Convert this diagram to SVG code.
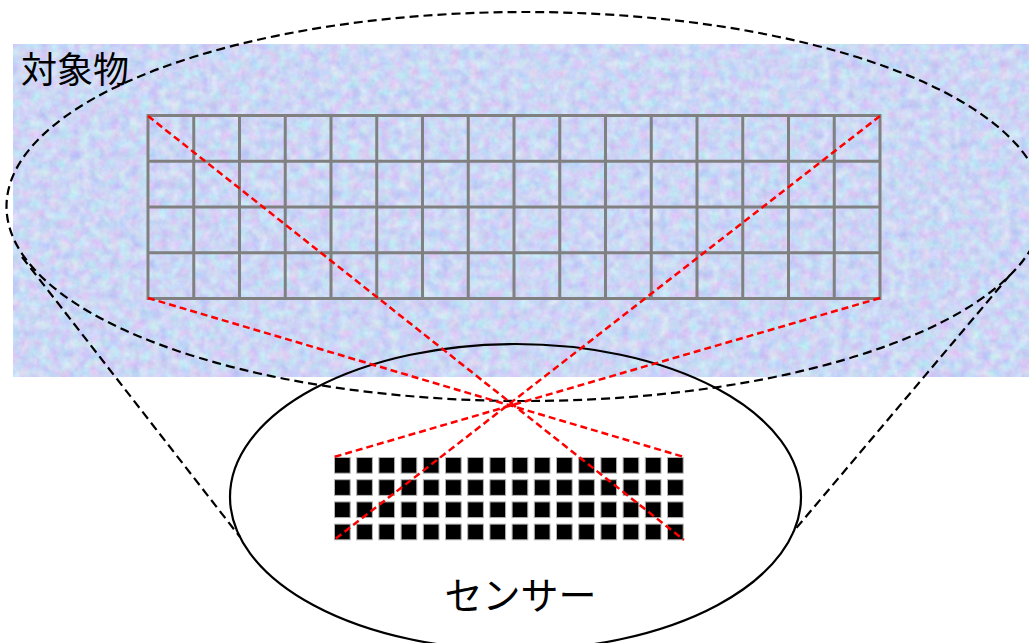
<svg xmlns="http://www.w3.org/2000/svg" xmlns:xlink="http://www.w3.org/1999/xlink" width="1029" height="643" viewBox="0 0 1029 643">
  <style>
    .grid { fill: none; stroke: #808080; stroke-width: 3; }
    .dash { fill: none; stroke: #000; stroke-width: 2.2; stroke-dasharray: 9 5; }
    .red { fill: none; stroke: #ff0000; stroke-width: 2.5; stroke-dasharray: 7 4; }
    .solid { fill: none; stroke: #000; stroke-width: 2.2; }
    .cell { fill: #000; stroke: #b4b4b4; stroke-width: 1; }
    .label { font-family: "Noto Sans CJK JP", "Noto Sans", sans-serif; fill: #000; }
  </style>
  <defs>
    <filter id="tex" x="0" y="0" width="1" height="1" color-interpolation-filters="sRGB">
      <feTurbulence type="fractalNoise" baseFrequency="0.1" numOctaves="4" seed="7" result="n"/>
      <feColorMatrix in="n" type="matrix" values="0.26 0 0 0 0.67  0 0.26 0 0 0.71  0 0 0.08 0 0.92  0 0 0 0 1"/>
    </filter>
    <rect id="sq" class="cell" x="0.5" y="0.5" width="15.7" height="15.7"/>
    <g id="row">
      <use xlink:href="#sq" x="0"/>
      <use xlink:href="#sq" x="22.2"/>
      <use xlink:href="#sq" x="44.4"/>
      <use xlink:href="#sq" x="66.6"/>
      <use xlink:href="#sq" x="88.8"/>
      <use xlink:href="#sq" x="111"/>
      <use xlink:href="#sq" x="133.2"/>
      <use xlink:href="#sq" x="155.4"/>
      <use xlink:href="#sq" x="177.6"/>
      <use xlink:href="#sq" x="199.8"/>
      <use xlink:href="#sq" x="222"/>
      <use xlink:href="#sq" x="244.2"/>
      <use xlink:href="#sq" x="266.4"/>
      <use xlink:href="#sq" x="288.6"/>
      <use xlink:href="#sq" x="310.8"/>
      <use xlink:href="#sq" x="333"/>
    </g>
  </defs>

  <rect width="1029" height="643" fill="#fff"/>

  <g id="object">
    <rect x="13" y="44" width="1016" height="333" fill="#cad6f4" filter="url(#tex)"/>
    <path class="grid" d="M148,115.5 H880 V298.5 H148 Z
      M148,161.25 H880 M148,207 H880 M148,252.75 H880
      M193.75,115.5 V298.5 M239.5,115.5 V298.5 M285.25,115.5 V298.5 M331,115.5 V298.5
      M376.75,115.5 V298.5 M422.5,115.5 V298.5 M468.25,115.5 V298.5 M514,115.5 V298.5
      M559.75,115.5 V298.5 M605.5,115.5 V298.5 M651.25,115.5 V298.5 M697,115.5 V298.5
      M742.75,115.5 V298.5 M788.5,115.5 V298.5 M834.25,115.5 V298.5"/>
    <text class="label" x="21" y="83" font-size="36">対象物</text>
  </g>

  <g id="view-field">
    <ellipse class="dash" cx="525" cy="206.5" rx="518.5" ry="194.5"/>
  </g>

  <g id="sensor">
    <ellipse class="solid" cx="515.5" cy="497" rx="285.5" ry="153"/>
    <g transform="translate(334,457)">
      <use xlink:href="#row" y="0"/>
      <use xlink:href="#row" y="22.2"/>
      <use xlink:href="#row" y="44.4"/>
      <use xlink:href="#row" y="66.6"/>
    </g>
    <text class="label" x="520.5" y="609" font-size="38" text-anchor="middle">センサー</text>
  </g>

  <g id="connectors">
    <line class="dash" x1="22" y1="257" x2="240" y2="537"/>
    <line class="dash" x1="1010" y1="275" x2="793" y2="532"/>
    <line class="red" x1="148" y1="116" x2="684" y2="540"/>
    <line class="red" x1="880" y1="116" x2="334" y2="540"/>
    <line class="red" x1="148" y1="298" x2="684" y2="457"/>
    <line class="red" x1="880" y1="298" x2="334" y2="457"/>
  </g>
</svg>
